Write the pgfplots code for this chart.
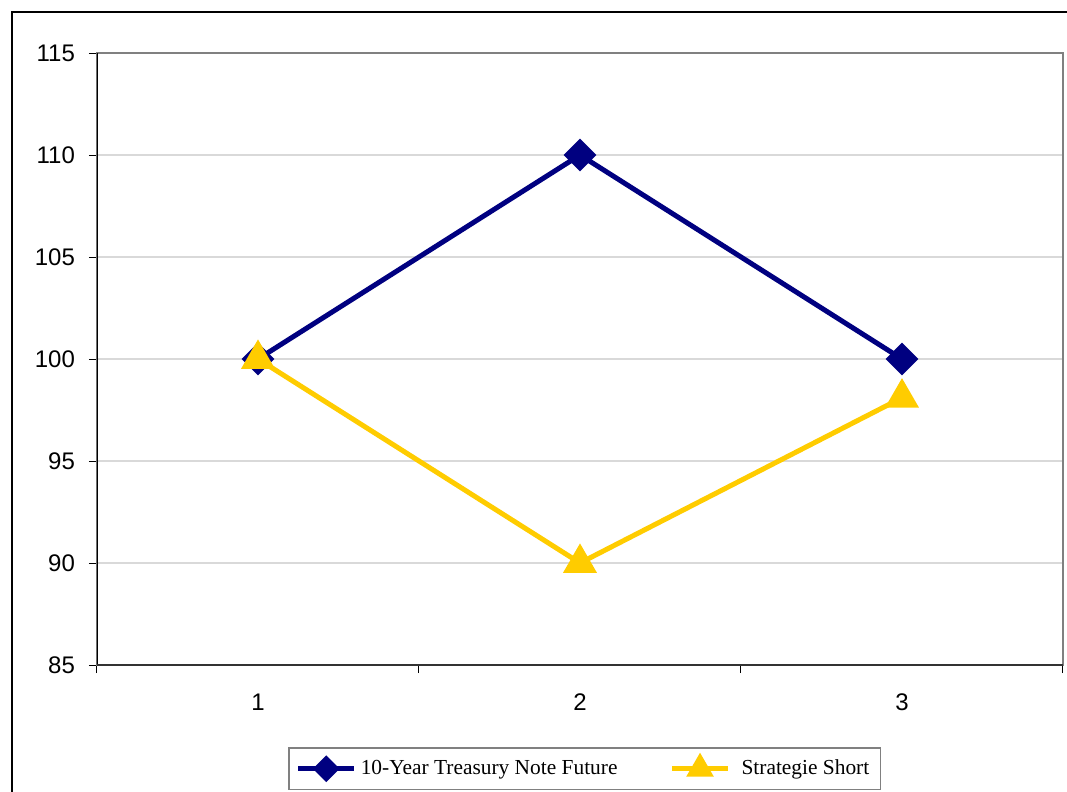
\documentclass[border=0pt]{standalone}
\usepackage{pgfplots}
\pgfplotsset{compat=1.18}
\usepackage{fontspec}
\setmainfont{Liberation Sans}
\newfontfamily\seriffont{Liberation Serif}
\definecolor{navyc}{RGB}{0,0,128}
\definecolor{yellc}{RGB}{255,204,0}
\definecolor{gridc}{RGB}{217,217,217}
\begin{document}
\begin{tikzpicture}
\useasboundingbox (0pt,0pt) rectangle (533.5pt,-396pt);
\draw[black,line width=0.6pt] (6pt,-410pt) -- (6pt,-6pt) -- (545pt,-6pt);
\begin{axis}[
  at={(48.5pt,-332.5pt)}, anchor=south west,
  scale only axis, width=483pt, height=306pt,
  xmin=0.5, xmax=3.5, ymin=85, ymax=115,
  xtick={1,2,3}, minor xtick={0.5,1.5,2.5,3.5},
  ytick={85,90,...,115},
  ymajorgrids, grid style={gridc,line width=0.6pt},
  tick align=outside, major tick length=4pt, minor tick length=4pt,
  major x tick style={draw=none},
  minor x tick style={black,line width=0.5pt},
  ytick style={black,line width=0.5pt},
  xtick pos=lower, ytick pos=left,
  axis line style={draw=gray,line width=1pt},
  /pgf/number format/assume math mode=true,
  tick label style={font=\fontsize{12}{14}\selectfont},
  xticklabel style={yshift=-7pt},
  yticklabel style={xshift=-3.5pt},
  legend style={at={(0.5047,-0.134)}, anchor=north, draw=gray, line width=0.8pt,
    font=\seriffont\fontsize{10.7}{12.5}\selectfont, inner xsep=3.5pt, inner ysep=4pt,
    /tikz/every even column/.append style={column sep=24pt}},
  legend columns=2,
  legend cell align=left,
  legend image code/.code={\draw[mark repeat=2,mark phase=2] plot coordinates {(0pt,0pt) (14pt,0pt) (28pt,0pt)};},
]
\addplot[navyc, line width=2.5pt, mark=square*, mark size=4.5pt, mark options={rotate=45, solid},
  legend image post style={mark size=3.5pt}] coordinates {(1,100) (2,110) (3,100)};
\addlegendentry{10-Year Treasury Note Future}
\addplot[yellc, line width=2.5pt, mark=triangle*, mark size=7.3pt, mark options={solid},
  legend image post style={mark size=5.5pt}] coordinates {(1,100) (2,90) (3,98.1)};
\addlegendentry{\hspace{3.5pt}Strategie Short}
\draw[black,line width=0.6pt] (rel axis cs:0,1) -- (rel axis cs:0,0);
\draw[black!80,line width=1pt] (rel axis cs:0,0) -- (rel axis cs:1,0);
\end{axis}
\end{tikzpicture}
\end{document}
